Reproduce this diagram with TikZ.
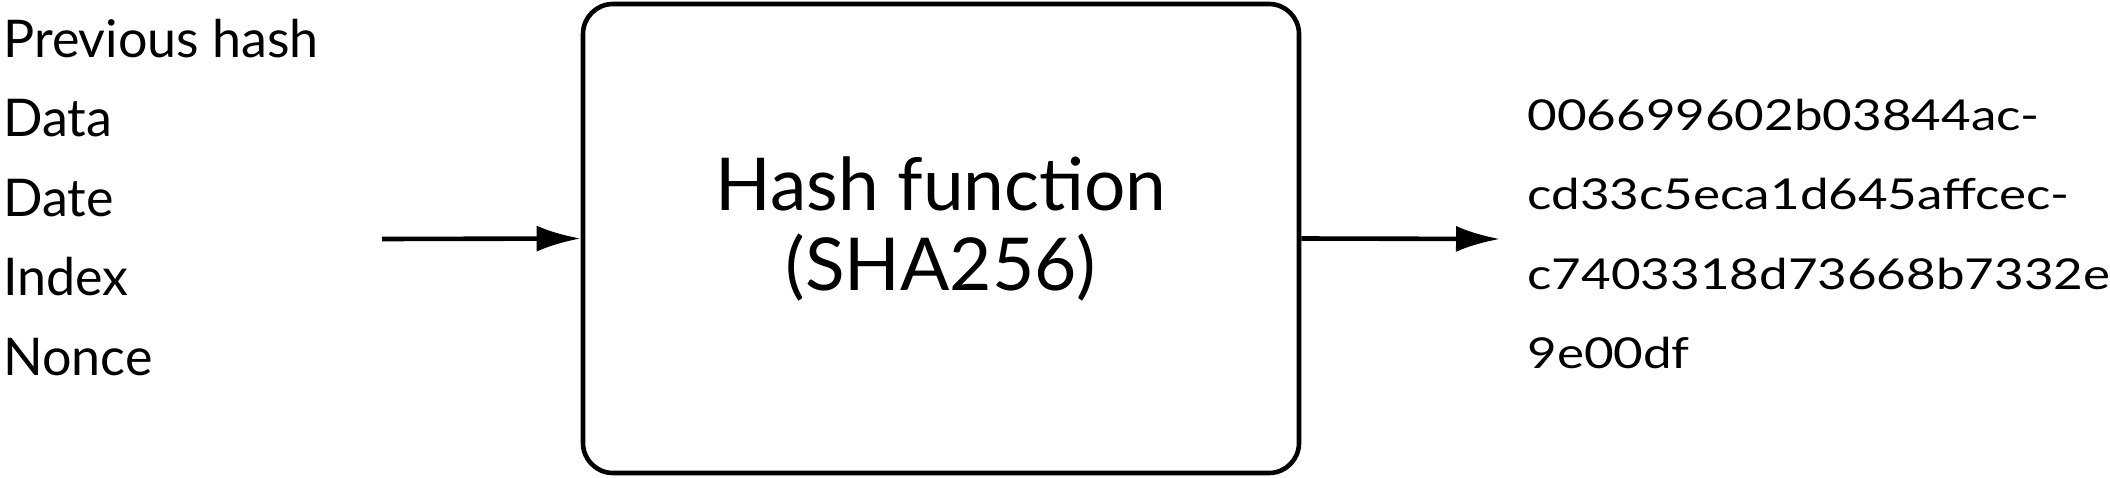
\documentclass[tikz,border=0pt]{standalone}
\usepackage{fontspec}
\setmainfont{Lato}
\newfontfamily\hexfont[FakeStretch=1.2]{Lato}
\usepackage{tikz}
\usetikzlibrary{arrows.meta, positioning}

\tikzset{
  field/.style={anchor=base west, inner sep=0pt, font=\fontsize{26}{30}\selectfont},
  hexline/.style={anchor=base west, inner sep=0pt, font=\hexfont\fontsize{21.3}{24}\selectfont},
  hashbox/.style={draw, line width=2.3pt, rounded corners=15pt, minimum width=358pt,
    minimum height=234.5pt, align=center, text depth=15pt, font=\fontsize{36.5}{40}\selectfont},
  link/.style={line width=2.3pt, -{Latex[length=22pt, width=13pt]}}
}

\begin{document}
\begin{tikzpicture}[x=0.5pt, y=-0.5pt]
\useasboundingbox (0,0) rectangle (2110,477);
% inputs of the block header
\foreach \lab [count=\i from 0] in {Previous hash,Data,Date,Index,Nonce}
  \node[field] (f\i) at (3,57+79.5*\i) {\lab};
\node[hashbox] (hash) at (941,238.5) {Hash function\\(SHA256)};
% resulting digest
\foreach \hex [count=\i from 0] in {006699602b03844ac-,cd33c5eca1d645affcec-,c7403318d73668b7332e,9e00df}
  \node[hexline] (h\i) at (1527,130+79.5*\i) {\hex};
\coordinate (src) at (382,239);
\coordinate (dst) at (1500,239);
\draw[link] (src) -- (hash.west);
\draw[link] (hash.east) -- (dst);
\end{tikzpicture}
\end{document}
